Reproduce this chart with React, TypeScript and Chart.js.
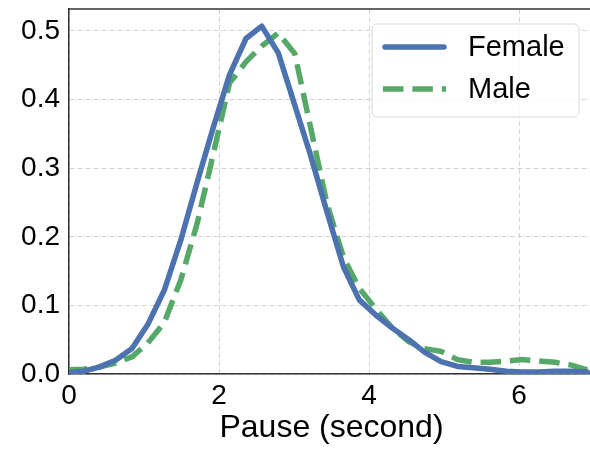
import React, { useEffect, useRef } from 'react';
import { Chart, registerables } from 'chart.js';

Chart.register(...registerables);

const pauseSeconds = [-0.03, 0.19, 0.40, 0.62, 0.84, 1.05, 1.27, 1.49, 1.71, 1.92, 2.14, 2.36, 2.57, 2.79, 3.01, 3.22, 3.44, 3.66, 3.87, 4.09, 4.31, 4.53, 4.74, 4.96, 5.18, 5.39, 5.61, 5.83, 6.04, 6.26, 6.48, 6.70, 6.91];
const femaleDensity = [0.002, 0.004, 0.010, 0.020, 0.037, 0.072, 0.122, 0.195, 0.280, 0.358, 0.436, 0.489, 0.507, 0.468, 0.392, 0.319, 0.236, 0.156, 0.108, 0.086, 0.067, 0.050, 0.032, 0.018, 0.011, 0.009, 0.007, 0.004, 0.003, 0.003, 0.004, 0.004, 0.003];
const maleDensity = [0.006, 0.007, 0.010, 0.016, 0.025, 0.045, 0.075, 0.137, 0.220, 0.319, 0.424, 0.455, 0.478, 0.497, 0.467, 0.360, 0.248, 0.170, 0.125, 0.095, 0.067, 0.047, 0.037, 0.033, 0.021, 0.017, 0.017, 0.019, 0.021, 0.019, 0.017, 0.013, 0.006];
const seriesLabels = ['Female', 'Male'];
const xTicks = [0, 2, 4, 6];
const yTicks = [0, 0.1, 0.2, 0.3, 0.4, 0.5];
const xTitle = 'Pause (second)';

const FONT = "'Liberation Sans', Arial, sans-serif";
const BLUE = '#4C72B0';
const GREEN = '#55A868';
const MALE_DASH = [20.5, 8.9];

const legendPlugin = {
  id: 'customLegend',
  afterDraw(chart: any) {
    const { ctx, chartArea } = chart;
    // top spine
    ctx.save();
    ctx.strokeStyle = '#333333';
    ctx.lineWidth = 1.5;
    ctx.beginPath();
    ctx.moveTo(chartArea.left, chartArea.top);
    ctx.lineTo(chartArea.right, chartArea.top);
    ctx.stroke();

    const w = 207, h = 93;
    const x0 = chartArea.right - 15 - w;
    const y0 = chartArea.top + 15;
    const r = 5;
    ctx.beginPath();
    ctx.moveTo(x0 + r, y0);
    ctx.lineTo(x0 + w - r, y0);
    ctx.arcTo(x0 + w, y0, x0 + w, y0 + r, r);
    ctx.lineTo(x0 + w, y0 + h - r);
    ctx.arcTo(x0 + w, y0 + h, x0 + w - r, y0 + h, r);
    ctx.lineTo(x0 + r, y0 + h);
    ctx.arcTo(x0, y0 + h, x0, y0 + h - r, r);
    ctx.lineTo(x0, y0 + r);
    ctx.arcTo(x0, y0, x0 + r, y0, r);
    ctx.closePath();
    ctx.fillStyle = 'rgba(255,255,255,0.8)';
    ctx.fill();
    ctx.strokeStyle = '#d8d8d8';
    ctx.lineWidth = 1;
    ctx.stroke();

    chart.data.datasets.forEach((ds: any, i: number) => {
      const cy = y0 + 23 + i * 42;
      ctx.save();
      ctx.strokeStyle = ds.borderColor;
      ctx.lineWidth = ds.borderWidth;
      ctx.setLineDash(ds.borderDash || []);
      ctx.lineCap = ds.borderDash && ds.borderDash.length ? 'butt' : 'round';
      ctx.beginPath();
      const lx = x0 + 11;
      ctx.moveTo(lx + (ctx.lineCap === 'round' ? 2 : 0), cy);
      ctx.lineTo(lx + 63 - (ctx.lineCap === 'round' ? 2 : 0), cy);
      ctx.stroke();
      ctx.restore();
      ctx.fillStyle = '#000000';
      ctx.font = `29px ${FONT}`;
      ctx.textBaseline = 'middle';
      ctx.textAlign = 'left';
      ctx.fillText(ds.label, x0 + 96, cy + 1);
    });
    ctx.restore();
  },
};

export default function App() {
  const canvasRef = useRef<HTMLCanvasElement | null>(null);

  useEffect(() => {
    const canvas = canvasRef.current;
    if (!canvas) return;
    const chart = new Chart(canvas, {
      type: 'line',
      data: {
        datasets: [
          {
            label: seriesLabels[0],
            data: pauseSeconds.map((x, i) => ({ x, y: femaleDensity[i] })),
            borderColor: BLUE,
            backgroundColor: BLUE,
            borderWidth: 5.5,
            pointRadius: 0,
            tension: 0,
            borderJoinStyle: 'round',
            borderCapStyle: 'round',
            fill: false,
            clip: 0,
          },
          {
            label: seriesLabels[1],
            data: pauseSeconds.map((x, i) => ({ x, y: maleDensity[i] })),
            borderColor: GREEN,
            backgroundColor: GREEN,
            borderWidth: 5.5,
            borderDash: MALE_DASH,
            pointRadius: 0,
            tension: 0,
            borderCapStyle: 'butt',
            fill: false,
            clip: 0,
          },
        ],
      },
      options: {
        responsive: false,
        animation: false,
        layout: { padding: { top: 9, right: 6, left: 0, bottom: 0 } },
        plugins: {
          legend: { display: false },
          tooltip: { enabled: false },
        },
        scales: {
          x: {
            type: 'linear',
            min: 0,
            max: 7,
            afterBuildTicks: (scale: any) => {
              scale.ticks = xTicks.map((v) => ({ value: v }));
            },
            afterFit: (scale: any) => {
              scale.height = 75;
              scale.paddingLeft = 0;
              scale.paddingRight = 0;
            },
            ticks: {
              font: { family: FONT, size: 28 },
              color: '#000000',
              padding: 5,
              maxRotation: 0,
              callback: (v: any) => String(v),
            },
            grid: { color: '#d4d4d4', lineWidth: 1, drawTicks: false },
            border: { display: true, color: '#333333', width: 1.5, dash: [5, 3] },
            title: {
              display: true,
              text: xTitle,
              font: { family: FONT, size: 32, lineHeight: 1.2 },
              color: '#000000',
              padding: { top: 0, bottom: 2 },
            },
          },
          y: {
            type: 'linear',
            min: 0,
            max: 0.532,
            afterBuildTicks: (scale: any) => {
              scale.ticks = yTicks.map((v) => ({ value: v }));
            },
            afterFit: (scale: any) => {
              scale.width = 69;
              scale.paddingTop = 0;
              scale.paddingBottom = 0;
            },
            ticks: {
              font: { family: FONT, size: 28 },
              color: '#000000',
              padding: 9,
              callback: (v: any) => Number(v).toFixed(1),
            },
            grid: { color: '#d4d4d4', lineWidth: 1, drawTicks: false },
            border: { display: true, color: '#333333', width: 1.5, dash: [5, 3] },
          },
        },
      } as any,
      plugins: [legendPlugin],
    });
    return () => chart.destroy();
  }, []);

  return (
    <div style={{ position: 'absolute', left: 0, top: 0, width: 590, height: 449, overflow: 'hidden', background: '#ffffff' }}>
      <canvas ref={canvasRef} width={600} height={449} style={{ width: 600, height: 449, display: 'block' }} />
    </div>
  );
}
